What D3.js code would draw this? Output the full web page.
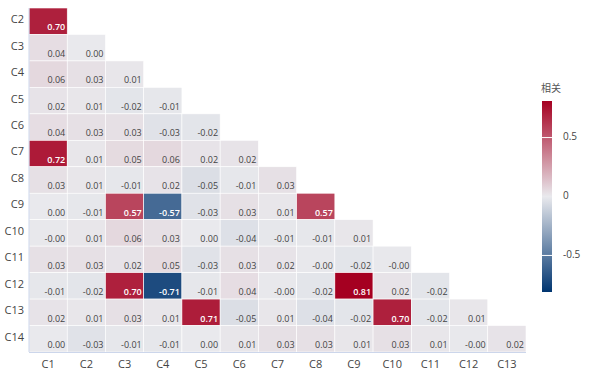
<!DOCTYPE html>
<html><head><meta charset="utf-8">
<script src="https://cdn.jsdelivr.net/npm/d3@7"></script>
<style>body{margin:0;background:#fff;}svg{display:block;font-family:"Segoe UI","Open Sans","Noto Sans CJK SC",sans-serif;}</style>
</head><body><svg id="chart" width="605" height="383"></svg>
<script>
const columns = ["C1","C2","C3","C4","C5","C6","C7","C8","C9","C10","C11","C12","C13"];
const rows = ["C2","C3","C4","C5","C6","C7","C8","C9","C10","C11","C12","C13","C14"];
const values = [
  [0.70],
  [0.04, 0.00],
  [0.06, 0.03, 0.01],
  [0.02, 0.01, -0.02, -0.01],
  [0.04, 0.03, 0.03, -0.03, -0.02],
  [0.72, 0.01, 0.05, 0.06, 0.02, 0.02],
  [0.03, 0.01, -0.01, 0.02, -0.05, -0.01, 0.03],
  [0.00, -0.01, 0.57, -0.57, -0.03, 0.03, 0.01, 0.57],
  [-0.004, 0.01, 0.06, 0.03, 0.00, -0.04, -0.01, -0.01, 0.01],
  [0.03, 0.03, 0.02, 0.05, -0.03, 0.03, 0.02, -0.004, -0.02, -0.004],
  [-0.01, -0.02, 0.70, -0.71, -0.01, 0.04, -0.004, -0.02, 0.81, 0.02, -0.02],
  [0.02, 0.01, 0.03, 0.01, 0.71, -0.05, 0.01, -0.04, -0.02, 0.70, -0.02, 0.01],
  [0.00, -0.03, -0.01, -0.01, 0.00, 0.01, 0.03, 0.03, 0.01, 0.03, 0.01, -0.004, 0.02]
];
const legendTicks = [0.5, 0, -0.5];
const legendTitle = "相关";

const cells = [];
values.forEach((r, i) => r.forEach((v, j) => cells.push({row: rows[i], col: columns[j], v})));
const maxAbs = d3.max(cells, d => Math.abs(d.v));

const svg = d3.select("#chart");
const x = d3.scaleBand().domain(columns).range([29, 526]);
const y = d3.scaleBand().domain(rows).range([8, 352]);
const color = d3.scaleLinear().domain([-maxAbs, 0, maxAbs])
  .range(["#003570", "#e9e9ed", "#a50021"]).interpolate(d3.interpolateRgb);

svg.append("g").selectAll("rect").data(cells).join("rect")
  .attr("x", d => x(d.col)).attr("y", d => y(d.row))
  .attr("width", x.bandwidth()).attr("height", y.bandwidth())
  .attr("fill", d => color(d.v))
  .attr("stroke", "#fff").attr("stroke-width", 0.6);

svg.append("g").selectAll("text").data(cells).join("text")
  .attr("x", d => x(d.col) + x.bandwidth() - 2)
  .attr("y", d => y(d.row) + y.bandwidth() - 4)
  .attr("text-anchor", "end")
  .attr("font-size", 9)
  .attr("font-weight", d => Math.abs(d.v) > 0.4 ? 600 : 400)
  .attr("fill", d => Math.abs(d.v) > 0.4 ? "#fff" : "#444")
  .text(d => d.v.toFixed(2));

// axes lines
svg.append("line").attr("x1", 29).attr("x2", 29).attr("y1", 8).attr("y2", 352)
  .attr("stroke", "#ccd6eb").attr("stroke-width", 1);
svg.append("line").attr("x1", 29).attr("x2", 526).attr("y1", 352.5).attr("y2", 352.5)
  .attr("stroke", "#ccd6eb").attr("stroke-width", 1);

svg.append("g").selectAll("text").data(rows).join("text")
  .attr("x", 24).attr("y", d => y(d) + y.bandwidth() / 2 - 1)
  .attr("text-anchor", "end").attr("dominant-baseline", "middle")
  .attr("font-size", 11).attr("fill", "#444").text(d => d);

svg.append("g").selectAll("text").data(columns).join("text")
  .attr("x", d => x(d) + x.bandwidth() / 2).attr("y", 368)
  .attr("text-anchor", "middle")
  .attr("font-size", 11).attr("fill", "#444").text(d => d);

// legend
const ly = d3.scaleLinear().domain([maxAbs, -maxAbs]).range([101, 292]);
const defs = svg.append("defs");
const grad = defs.append("linearGradient").attr("id", "lg").attr("x1", 0).attr("x2", 0).attr("y1", 0).attr("y2", 1);
d3.range(0, 1.0001, 0.1).forEach(t => {
  grad.append("stop").attr("offset", t).attr("stop-color", color(maxAbs - t * 2 * maxAbs));
});
svg.append("rect").attr("x", 542).attr("y", 101).attr("width", 10).attr("height", 191).attr("fill", "url(#lg)");
svg.append("g").selectAll("line").data(legendTicks.filter(t => t !== 0)).join("line")
  .attr("x1", 542).attr("x2", 552).attr("y1", d => ly(d)).attr("y2", d => ly(d))
  .attr("stroke", "#fff").attr("stroke-width", 1);
svg.append("g").selectAll("text").data(legendTicks).join("text")
  .attr("x", 563).attr("y", d => ly(d)).attr("dominant-baseline", "middle")
  .attr("font-size", 10).attr("fill", "#444").text(d => d);
svg.append("text").attr("x", 541).attr("y", 92).attr("font-size", 10).attr("fill", "#555").text(legendTitle);
</script></body></html>
